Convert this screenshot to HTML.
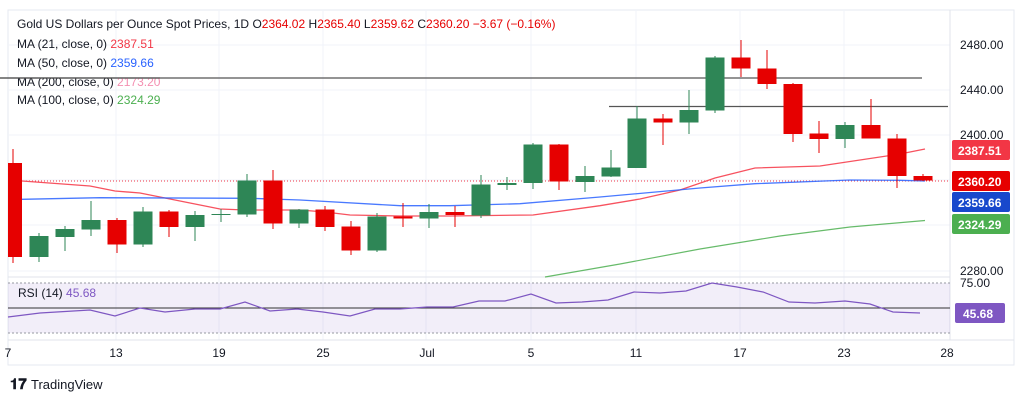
<!DOCTYPE html>
<html><head><meta charset="utf-8"><style>
body{margin:0;background:#fff;width:1024px;height:402px;overflow:hidden;font-family:"Liberation Sans",sans-serif}
</style></head><body>
<svg width="1024" height="402" viewBox="0 0 1024 402" xmlns="http://www.w3.org/2000/svg" font-family="Liberation Sans, sans-serif">
<rect x="8" y="10" width="1006" height="355" fill="#fff" stroke="#e6e9f0"/>
<g stroke="#f0f3fa" stroke-width="1">
<line x1="8" y1="45" x2="950" y2="45"/><line x1="8" y1="90" x2="950" y2="90"/><line x1="8" y1="135" x2="950" y2="135"/>
<line x1="8" y1="180" x2="950" y2="180"/><line x1="8" y1="225" x2="950" y2="225"/><line x1="8" y1="271" x2="950" y2="271"/>
<line x1="116" y1="10" x2="116" y2="340"/><line x1="219" y1="10" x2="219" y2="340"/><line x1="323" y1="10" x2="323" y2="340"/>
<line x1="426" y1="10" x2="426" y2="340"/><line x1="531" y1="10" x2="531" y2="340"/><line x1="636" y1="10" x2="636" y2="340"/>
<line x1="740" y1="10" x2="740" y2="340"/><line x1="844" y1="10" x2="844" y2="340"/>
</g>
<line x1="8" y1="277" x2="950" y2="277" stroke="#e0e3eb"/>
<line x1="950" y1="10" x2="950" y2="340" stroke="#e0e3eb"/>
<line x1="8" y1="340" x2="1014" y2="340" stroke="#e0e3eb"/>
<!-- horizontal levels -->
<line x1="0" y1="78" x2="922" y2="78" stroke="#555" stroke-width="1.2"/>
<line x1="609" y1="106.5" x2="948" y2="106.5" stroke="#555" stroke-width="1.2"/>
<line x1="8" y1="181" x2="950" y2="181" stroke="#f23645" stroke-dasharray="1 2" stroke-width="1"/>
<!-- MAs -->
<polyline fill="none" stroke="#f7525f" stroke-width="1.3" points="22,181 90,186 115,191 140,193 165,198 190,203 220,209 245,210 300,210 325,212 350,215 400,216 450,216 480,215.6 533,215 600,205.7 640,199 680,190 715,178 755,168 820,166 900,154 925,149"/>
<polyline fill="none" stroke="#2962ff" stroke-width="1.3" opacity="0.85" points="22,199.3 100,197.7 250,198.3 300,200 400,205.7 450,205.7 520,203.7 600,197 700,188 755,183.7 850,180 900,180.3 925,181"/>
<polyline fill="none" stroke="#4caf50" stroke-width="1.2" opacity="0.85" points="545,277 620,264 700,249 780,236 850,227 925,220.5"/>
<!-- candles -->
<g id="c">
<!-- i,x : color, wick top/bottom, body top/bottom -->
</g>
<g stroke-width="1">
<line x1="13" y1="149" x2="13" y2="263" stroke="#e60000"/><rect x="8" y="163" width="14" height="94" fill="#e60000"/>
<line x1="39" y1="233" x2="39" y2="262" stroke="#2e8656"/><rect x="29.5" y="236" width="19" height="21" fill="#2e8656"/>
<line x1="65" y1="226" x2="65" y2="251" stroke="#2e8656"/><rect x="55.5" y="229" width="19" height="8" fill="#2e8656"/>
<line x1="91" y1="201" x2="91" y2="236" stroke="#2e8656"/><rect x="81.5" y="220" width="19" height="9.5" fill="#2e8656"/>
<line x1="117" y1="218" x2="117" y2="253" stroke="#e60000"/><rect x="107.5" y="220" width="19" height="24.5" fill="#e60000"/>
<line x1="143" y1="207" x2="143" y2="247" stroke="#2e8656"/><rect x="133.5" y="211.5" width="19" height="33" fill="#2e8656"/>
<line x1="169" y1="210" x2="169" y2="237" stroke="#e60000"/><rect x="159.5" y="211.5" width="19" height="15.5" fill="#e60000"/>
<line x1="195" y1="211" x2="195" y2="241" stroke="#2e8656"/><rect x="185.5" y="215" width="19" height="12" fill="#2e8656"/>
<line x1="221" y1="209" x2="221" y2="222" stroke="#2e8656"/><rect x="211.5" y="214" width="19" height="1" fill="#2e8656"/>
<line x1="247" y1="174" x2="247" y2="217" stroke="#2e8656"/><rect x="237.5" y="180.5" width="19" height="34" fill="#2e8656"/>
<line x1="273" y1="170" x2="273" y2="229" stroke="#e60000"/><rect x="263.5" y="180.5" width="19" height="43" fill="#e60000"/>
<line x1="299" y1="209" x2="299" y2="228" stroke="#2e8656"/><rect x="289.5" y="209.5" width="19" height="14" fill="#2e8656"/>
<line x1="325" y1="206" x2="325" y2="231" stroke="#e60000"/><rect x="315.5" y="209.5" width="19" height="17.5" fill="#e60000"/>
<line x1="351" y1="221" x2="351" y2="255" stroke="#e60000"/><rect x="341.5" y="226.5" width="19" height="24" fill="#e60000"/>
<line x1="377" y1="213" x2="377" y2="252" stroke="#2e8656"/><rect x="367.5" y="216.5" width="19" height="34" fill="#2e8656"/>
<line x1="403" y1="203" x2="403" y2="227" stroke="#e60000"/><rect x="393.5" y="216.5" width="19" height="2" fill="#e60000"/>
<line x1="429" y1="204" x2="429" y2="228" stroke="#2e8656"/><rect x="419.5" y="212" width="19" height="6.5" fill="#2e8656"/>
<line x1="455" y1="206" x2="455" y2="227" stroke="#e60000"/><rect x="445.5" y="212" width="19" height="3" fill="#e60000"/>
<line x1="481" y1="175" x2="481" y2="218" stroke="#2e8656"/><rect x="471.5" y="184.5" width="19" height="31" fill="#2e8656"/>
<line x1="507" y1="177" x2="507" y2="190" stroke="#2e8656"/><rect x="497.5" y="183" width="19" height="2" fill="#2e8656"/>
<line x1="533" y1="143" x2="533" y2="189" stroke="#2e8656"/><rect x="523.5" y="144.5" width="19" height="38.5" fill="#2e8656"/>
<line x1="559" y1="144" x2="559" y2="190" stroke="#e60000"/><rect x="549.5" y="144.5" width="19" height="37" fill="#e60000"/>
<line x1="585" y1="166" x2="585" y2="192" stroke="#2e8656"/><rect x="575.5" y="176" width="19" height="6" fill="#2e8656"/>
<line x1="611" y1="150" x2="611" y2="177" stroke="#2e8656"/><rect x="601.5" y="167.5" width="19" height="9" fill="#2e8656"/>
<line x1="637" y1="106" x2="637" y2="168" stroke="#2e8656"/><rect x="627.5" y="118.5" width="19" height="49.5" fill="#2e8656"/>
<line x1="663" y1="114" x2="663" y2="145" stroke="#e60000"/><rect x="653.5" y="118.5" width="19" height="4" fill="#e60000"/>
<line x1="689" y1="90" x2="689" y2="134" stroke="#2e8656"/><rect x="679.5" y="110" width="19" height="12.5" fill="#2e8656"/>
<line x1="715" y1="56" x2="715" y2="113" stroke="#2e8656"/><rect x="705.5" y="57.5" width="19" height="53" fill="#2e8656"/>
<line x1="741" y1="40" x2="741" y2="77" stroke="#e60000"/><rect x="731.5" y="57.5" width="19" height="11" fill="#e60000"/>
<line x1="767" y1="50" x2="767" y2="89" stroke="#e60000"/><rect x="757.5" y="68.5" width="19" height="15.5" fill="#e60000"/>
<line x1="793" y1="83" x2="793" y2="142" stroke="#e60000"/><rect x="783.5" y="84" width="19" height="50" fill="#e60000"/>
<line x1="819" y1="121" x2="819" y2="153" stroke="#e60000"/><rect x="809.5" y="133.5" width="19" height="5.5" fill="#e60000"/>
<line x1="845" y1="122" x2="845" y2="148" stroke="#2e8656"/><rect x="835.5" y="125" width="19" height="14" fill="#2e8656"/>
<line x1="871" y1="99" x2="871" y2="138" stroke="#e60000"/><rect x="861.5" y="125" width="19" height="13.5" fill="#e60000"/>
<line x1="897" y1="134" x2="897" y2="188" stroke="#e60000"/><rect x="887.5" y="138.5" width="19" height="37.5" fill="#e60000"/>
<line x1="923" y1="174" x2="923" y2="181" stroke="#e60000"/><rect x="913.5" y="176" width="19" height="4.5" fill="#e60000"/>
</g>
<!-- legend -->
<g font-size="12" fill="#131722">
<text x="17" y="28">Gold US Dollars per Ounce Spot Prices, 1D <tspan fill="#131722">O</tspan><tspan fill="#e60000">2364.02</tspan> <tspan>H</tspan><tspan fill="#e60000">2365.40</tspan> <tspan>L</tspan><tspan fill="#e60000">2359.62</tspan> <tspan>C</tspan><tspan fill="#e60000">2360.20 −3.67 (−0.16%)</tspan></text>
<text x="17" y="48">MA (21, close, 0) <tspan fill="#f23645">2387.51</tspan></text>
<text x="17" y="67">MA (50, close, 0) <tspan fill="#2962ff">2359.66</tspan></text>
<text x="17" y="86">MA (200, close, 0) <tspan fill="#f48fb1">2173.20</tspan></text>
<text x="17" y="104">MA (100, close, 0) <tspan fill="#4caf50">2324.29</tspan></text>
</g>
<line x1="0" y1="78" x2="160" y2="78" stroke="#555" stroke-width="1.2"/>
<!-- price axis -->
<g font-size="12" fill="#131722">
<text x="960" y="49">2480.00</text><text x="960" y="94">2440.00</text><text x="960" y="139">2400.00</text><text x="960" y="275">2280.00</text>
</g>
<g font-size="12" fill="#fff" font-weight="bold">
<rect x="952" y="140" width="58" height="20" rx="2" fill="#f23645"/><text x="958" y="155">2387.51</text>
<rect x="952" y="171" width="58" height="20" rx="2" fill="#e60000"/><text x="958" y="186">2360.20</text>
<rect x="952" y="192" width="58" height="20" rx="2" fill="#1848cc"/><text x="958" y="207">2359.66</text>
<rect x="952" y="214" width="58" height="20" rx="2" fill="#4caf50"/><text x="958" y="229">2324.29</text>
</g>
<!-- RSI -->
<rect x="8" y="283" width="942" height="50" fill="#7e57c2" fill-opacity="0.1"/>
<line x1="8" y1="283" x2="950" y2="283" stroke="#9598a1" stroke-dasharray="2 2"/>
<line x1="8" y1="333" x2="950" y2="333" stroke="#9598a1" stroke-dasharray="2 2"/>
<line x1="8" y1="308" x2="950" y2="308" stroke="#333" stroke-width="1"/>
<polyline fill="none" stroke="#7e57c2" stroke-width="1.2" points="8,317 40,313 90,310 115,316 140,308 165,312 195,309 220,309 245,302 270,311 297,309 323,312 350,316 375,309 400,309 427,307 453,307 479,301 505,301 531,294 556,303 582,302 608,300 634,292 660,293 686,291 712,283 737,287 763,292 789,302 815,303 845,301 870,304 893,312 920,313"/>
<text x="18" y="297" font-size="12" fill="#131722">RSI (14) <tspan fill="#7e57c2">45.68</tspan></text>
<text x="960" y="287" font-size="12" fill="#131722">75.00</text>
<text x="960" y="312" font-size="12" fill="#131722">50.00</text>
<rect x="955" y="303" width="50" height="20" rx="2" fill="#7e57c2"/><text x="963" y="318" font-size="12" fill="#fff" font-weight="bold">45.68</text>
<!-- x axis -->
<g font-size="12" fill="#131722" text-anchor="middle">
<text x="8" y="357">7</text><text x="116" y="357">13</text><text x="219" y="357">19</text><text x="323" y="357">25</text>
<text x="427" y="357">Jul</text><text x="531" y="357">5</text><text x="636" y="357">11</text><text x="740" y="357">17</text>
<text x="844" y="357">23</text><text x="947" y="357">28</text>
</g>
<!-- logo -->
<text x="10" y="389" font-size="15" font-weight="bold" fill="#131722">𝟏𝟕</text>
<text x="31" y="389" font-size="13" fill="#131722">TradingView</text>
</svg>
</body></html>
